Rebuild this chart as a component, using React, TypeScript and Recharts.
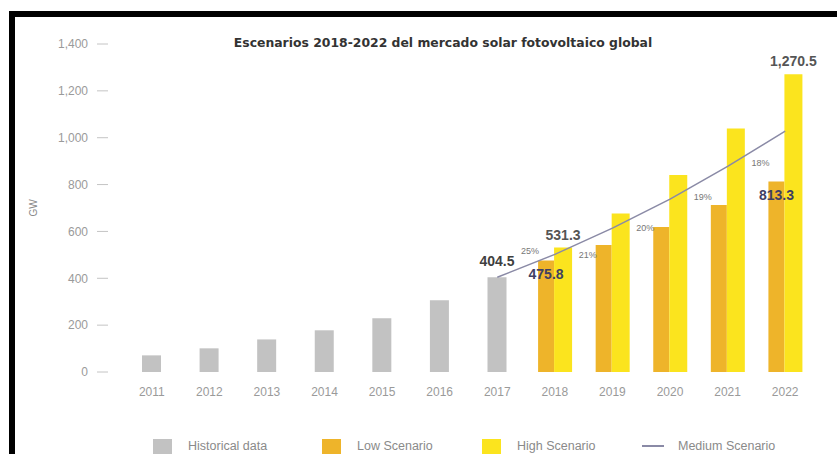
import { ComposedChart, Bar, Line, XAxis, YAxis, LabelList } from "recharts";

const YEARS = ["2011", "2012", "2013", "2014", "2015", "2016", "2017", "2018", "2019", "2020", "2021", "2022"];
const HISTORICAL = [71, 101, 139, 178, 229, 306, 404.5, null, null, null, null, null];
const LOW_SCENARIO = [null, null, null, null, null, null, null, 475.8, 542, 619, 713, 813.3];
const HIGH_SCENARIO = [null, null, null, null, null, null, null, 531.3, 676, 841, 1039, 1270.5];
const MEDIUM_SCENARIO = [null, null, null, null, null, null, 404.5, 502, 614, 738, 878, 1028];
const GROWTH = [null, null, null, null, null, null, null, "25%", "21%", "20%", "19%", "18%"];
const HIST_LABELS = [null, null, null, null, null, null, "404.5", null, null, null, null, null];
const LOW_LABELS = [null, null, null, null, null, null, null, "475.8", null, null, null, "813.3"];
const HIGH_LABELS = [null, null, null, null, null, null, null, "531.3", null, null, null, "1,270.5"];
const Y_TICKS = [0, 200, 400, 600, 800, 1000, 1200, 1400];

const LEGEND = [
  { label: "Historical data", color: "#c2c2c2", type: "square" },
  { label: "Low Scenario", color: "#eeb42a", type: "square" },
  { label: "High Scenario", color: "#fbe41e", type: "square" },
  { label: "Medium Scenario", color: "#8a8aa6", type: "line" },
];

const data = YEARS.map((year, i) => ({
  year,
  historical: HISTORICAL[i],
  low: LOW_SCENARIO[i],
  high: HIGH_SCENARIO[i],
  medium: MEDIUM_SCENARIO[i],
  growth: GROWTH[i],
  histLabel: HIST_LABELS[i],
  lowLabel: LOW_LABELS[i],
  highLabel: HIGH_LABELS[i],
}));

const FONT = "'Liberation Sans', Arial, sans-serif";
const PLOT_H = 328;
const Y_MAX = 1400;
const BAND = 57.6;

// growth % sits near the middle of each segment of the medium line
const GrowthLabel = (props: any) => {
  const { index, value } = props;
  if (!value) return null;
  const x = props.viewBox?.x ?? props.x;
  const y = props.viewBox?.y ?? props.y;
  const prev = MEDIUM_SCENARIO[index - 1] as number;
  const cur = MEDIUM_SCENARIO[index] as number;
  const rise = ((cur - prev) * PLOT_H) / Y_MAX;
  const mx = x - BAND / 2 + 4;
  const my = y + rise / 2 + (index === 7 ? -15 : 14);
  return (
    <text x={mx} y={my} dy="0.35em" textAnchor="middle" fontSize={9} fontFamily={FONT} fill="#777">
      {value}
    </text>
  );
};

export default function App() {
  return (
    <div style={{ position: "absolute", left: 0, top: 0, width: 837, height: 454, overflow: "hidden", background: "#fff" }}>
      <div
        style={{
          position: "absolute",
          left: 9,
          top: 11,
          width: 1000,
          height: 1000,
          borderTop: "6px solid #000",
          borderLeft: "6px solid #000",
        }}
      />
      <div
        style={{
          position: "absolute",
          left: 443,
          top: 35,
          transform: "translateX(-50%)",
          whiteSpace: "nowrap",
          fontFamily: "'DejaVu Sans', sans-serif",
          fontWeight: "bold",
          fontSize: 12.4,
          color: "#333",
        }}
      >
        Escenarios 2018-2022 del mercado solar fotovoltaico global
      </div>
      <div style={{ position: "absolute", left: 0, top: 0 }}>
        <ComposedChart width={837} height={454} data={data} margin={{ top: 44, right: 8, bottom: 52, left: 0 }} barGap={0}>
          <XAxis
            xAxisId="main"
            dataKey="year"
            padding={{ left: 15, right: 15 }}
            axisLine={false}
            tickLine={false}
            tickMargin={9}
            height={30}
            tick={{ fill: "#9a9a9a", fontSize: 12, fontFamily: FONT }}
          />
          <XAxis xAxisId="hist" dataKey="year" padding={{ left: 15, right: 15 }} height={0} hide />
          <YAxis
            domain={[0, 1400]}
            ticks={Y_TICKS}
            width={108}
            axisLine={false}
            tickSize={11}
            tickMargin={9}
            tickLine={{ stroke: "#c4c4c4" }}
            tickFormatter={(v: number) => v.toLocaleString("en-US")}
            tick={{ fill: "#9a9a9a", fontSize: 12, fontFamily: FONT }}
            label={{ value: "GW", angle: -90, position: "center", dx: -21, fill: "#888", fontSize: 10, fontFamily: FONT }}
          />
          <Bar xAxisId="hist" dataKey="historical" fill="#c2c2c2" barSize={19} isAnimationActive={false}>
            <LabelList dataKey="histLabel" position="top" offset={11} fill="#3f3f3f" fontSize={14} fontWeight="bold" fontFamily={FONT} />
          </Bar>
          <Bar xAxisId="main" dataKey="low" fill="#eeb42a" barSize={16} isAnimationActive={false}>
            <LabelList dataKey="lowLabel" position="insideTop" offset={9} fill="#3f4063" fontSize={14} fontWeight="bold" fontFamily={FONT} />
          </Bar>
          <Bar xAxisId="main" dataKey="high" fill="#fbe41e" barSize={18} isAnimationActive={false}>
            <LabelList dataKey="highLabel" position="top" offset={8} fill="#555" fontSize={14} fontWeight="bold" fontFamily={FONT} />
          </Bar>
          <Line
            xAxisId="main"
            dataKey="medium"
            type="linear"
            stroke="#8a8aa6"
            strokeWidth={1.5}
            dot={false}
            isAnimationActive={false}
          >
            <LabelList dataKey="growth" content={GrowthLabel} />
          </Line>
        </ComposedChart>
      </div>
      <div style={{ position: "absolute", left: 0, top: 438, width: 837, height: 16 }}>
        {LEGEND.map((item, i) => {
          const left = [153, 322, 482, 642][i];
          return (
            <div key={item.label} style={{ position: "absolute", left, top: 0, display: "flex", alignItems: "center", height: 16 }}>
              {item.type === "square" ? (
                <span style={{ display: "inline-block", width: 19, height: 15, background: item.color }} />
              ) : (
                <span style={{ display: "inline-block", width: 22, height: 1.5, background: item.color }} />
              )}
              <span
                style={{
                  marginLeft: item.type === "square" ? 16 : 14,
                  fontFamily: FONT,
                  fontSize: 12.5,
                  color: "#8a8a8a",
                  whiteSpace: "nowrap",
                }}
              >
                {item.label}
              </span>
            </div>
          );
        })}
      </div>
    </div>
  );
}
